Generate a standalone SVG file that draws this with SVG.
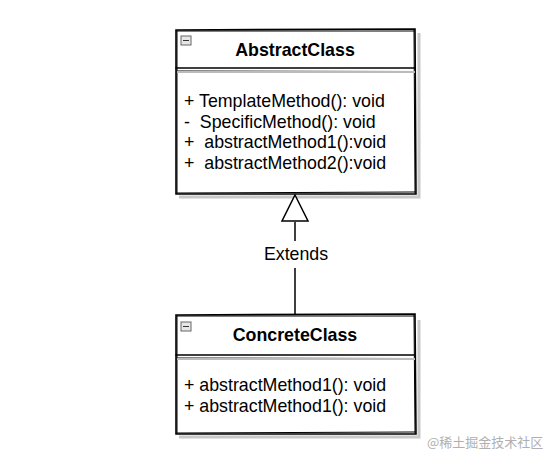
<svg xmlns="http://www.w3.org/2000/svg" width="543" height="462" viewBox="0 0 543 462" xml:space="preserve">
<style>
.sk{fill:none;stroke:#000;stroke-width:1.6;stroke-linecap:round}
.sk2{fill:none;stroke:#000;stroke-width:1;stroke-linecap:round}
.sh{fill:none;stroke:#c8c8c8;stroke-width:3}
.t{font-family:"Liberation Sans",Arial,sans-serif;font-size:17.8px;fill:#000;white-space:pre}
.h{font-family:"Liberation Sans",Arial,sans-serif;font-size:17.8px;font-weight:bold;fill:#000}
.ic{fill:#e6e6e6;stroke:#666;stroke-width:1}
</style>
<rect width="543" height="462" fill="#fff"/>
<g id="AbstractClass">
<path class="sh" d="M179 197 L419 197 L419 33"/>
<rect x="176" y="30" width="239" height="164" fill="#fff"/>
<path class="sk" d="M176 30 L415 29 L416 194 L176 194 Z"/>
<path class="sk2" d="M177 31 L414 31 M177 193 L415 192 M177 31 L177 193 M414 30 L415 193"/>
<path class="sk" d="M176 68 L415 68"/>
<path class="sk2" d="M177 71 L415 71.5"/>
<path d="M177 72 L415 72" stroke="#bbb" stroke-width="2"/>
<rect class="ic" x="181" y="36" width="10" height="9"/>
<path d="M183 40.5 H189" stroke="#333" stroke-width="1"/>
<text class="h" x="295" y="56" text-anchor="middle">AbstractClass</text>
<text class="t" x="184" y="107">+ TemplateMethod(): void</text>
<text class="t" x="184" y="128">-  SpecificMethod(): void</text>
<text class="t" x="184" y="148">+  abstractMethod1():void</text>
<text class="t" x="184" y="169">+  abstractMethod2():void</text>
</g>
<g id="ConcreteClass">
<path class="sh" d="M179 437 L419 437 L419 320"/>
<rect x="176" y="315" width="239" height="119" fill="#fff"/>
<path class="sk" d="M176 315 L415 314 L416 434 L176 434 Z"/>
<path class="sk2" d="M177 316 L414 316 M177 433 L415 432 M177 316 L177 433 M414 315 L415 433"/>
<path class="sk" d="M176 355 L415 355"/>
<path class="sk2" d="M177 358 L415 358.5"/>
<path d="M177 359 L415 359" stroke="#bbb" stroke-width="2"/>
<rect class="ic" x="181" y="322" width="10" height="9"/>
<path d="M183 326.5 H189" stroke="#333" stroke-width="1"/>
<text class="h" x="295" y="341" text-anchor="middle">ConcreteClass</text>
<text class="t" x="184" y="391">+ abstractMethod1(): void</text>
<text class="t" x="184" y="412">+ abstractMethod1(): void</text>
</g>
<g id="connectors">
<path d="M295 222 L295 241 M295 268 L295 315" stroke="#000" stroke-width="1.5" fill="none"/>
<path d="M295 195 L308 221 L282 221 Z" fill="#fff" stroke="#000" stroke-width="1.5"/>
<text class="t" x="296" y="260" text-anchor="middle">Extends</text>
</g>
<text x="427" y="447" font-family="'Noto Sans CJK SC',sans-serif" font-size="13" fill="#b0b0b0">@稀土掘金技术社区</text>
</svg>
